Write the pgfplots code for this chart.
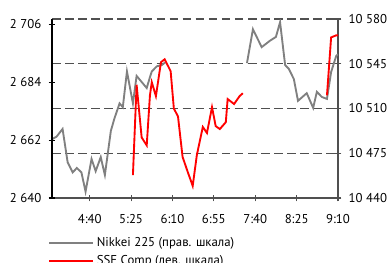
\documentclass[border=0pt]{standalone}
\usepackage{pgfplots}
\pgfplotsset{compat=1.18}
\usepackage{fontspec}
\setmainfont{PT Sans}
\definecolor{nk}{HTML}{808080}
\definecolor{ax}{HTML}{505050}
\begin{document}
\begin{tikzpicture}
\useasboundingbox (-39pt,-48pt) rectangle (252.75pt,148.5pt);
\pgfplotsset{
  every axis/.append style={
    at={(0pt,0pt)}, anchor=south west,
    scale only axis, width=214.5pt, height=134.25pt,
    xmin=239, xmax=550,
    font=\fontsize{9.6}{11}\selectfont,
    /pgf/number format/assume math mode=true,
    /pgf/number format/1000 sep={\ },
    scaled ticks=false,
    tick align=center, major tick length=5pt,
    tick style={line width=0.8pt},
  }
}
\begin{axis}[
  axis y line*=right, axis x line*=bottom,
  ymin=10440, ymax=10580,
  ytick={10440,10475,10510,10545,10580},
  xtick={280,325,370,415,460,505,550},
  xticklabels={4:40,5:25,6:10,6:55,7:40,8:25,9:10},
  ymajorgrids,
  major grid style={dash pattern=on 6.4pt off 3.4pt, color=ax, line width=0.9pt},
  axis line style={color=ax, line width=0.8pt},
  tick style={color=ax},
  yticklabel style={xshift=2pt},
  xticklabel style={yshift=-6.5pt},
  legend style={draw=none, fill=none, at={(axis description cs:-0.014,-0.205)}, anchor=north west,
    font=\fontsize{9.6}{11}\selectfont, row sep=1.2pt, inner sep=0pt, cells={anchor=west}},
  legend cell align=left,
  legend image code/.code={\draw[#1] (0pt,0pt) -- (33pt,0pt);},
]
\addplot[nk, line width=1.4pt, forget plot] coordinates {
(239,10486) (244,10488) (250.5,10494) (256,10468) (261.5,10460) (266,10463.5) (271,10460) (275.5,10445) (282,10470.5) (286.5,10461) (292,10472) (296.5,10458) (303,10492.5) (307,10502.5) (312.5,10514) (316,10511) (320.5,10539) (327,10514) (331,10535.5) (342,10526) (345.5,10534.5) (347.5,10539) (353,10543) (358.5,10544) (362,10546)
};
\addplot[nk, line width=1.4pt, forget plot] coordinates {
(451,10545.5) (457.5,10572) (467,10558) (476,10563) (482.5,10566) (487,10577.5) (492.5,10544) (496.5,10541) (502,10533) (506.5,10516) (516,10522) (523,10510.5) (527,10523) (532.5,10519) (538,10517.5) (542.5,10538.5) (548,10551) (550,10552.5)
};
\addlegendimage{nk, line width=1.4pt}
\addlegendentry{Nikkei 225 (прав. шкала)}
\addlegendimage{red, line width=1.4pt}
\addlegendentry{SSE Comp (лев. шкала)}
\end{axis}
\begin{axis}[
  axis y line*=left, axis x line=none,
  ymin=2640, ymax=2708,
  ytick={2640,2662,2684,2706},
  axis line style={color=black, line width=0.8pt},
  tick style={color=black},
  yticklabel style={xshift=-2pt},
]
\addplot[red, line width=1.4pt] coordinates {
(327,2648.7) (331,2683) (336.5,2663) (342,2660) (345.5,2679) (347.5,2684) (352,2678.7) (357.5,2691.6) (361.5,2692.7) (368,2688.2) (371.5,2674) (376,2671) (381,2655.6) (386.5,2650) (392,2644.6) (396.5,2656.3) (403,2667) (407.5,2664.7) (413,2674.5) (417,2667.3) (421.5,2666.2) (428,2668.8) (430,2677.6) (437,2675.7) (443,2678.7) (446.5,2679.8)
};
\addplot[red, line width=1.4pt] coordinates {
(538,2679) (542.5,2701) (548,2701.8) (550,2701.8)
};
\end{axis}
\end{tikzpicture}
\end{document}
